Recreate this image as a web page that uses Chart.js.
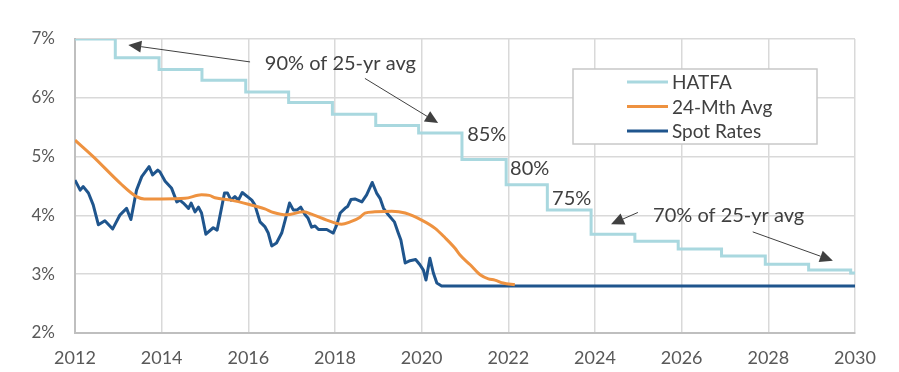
<!DOCTYPE html>
<html><head><meta charset="utf-8">
<script src="https://cdn.jsdelivr.net/npm/chart.js@4/dist/chart.umd.min.js"></script>
<style>html,body{margin:0;padding:0;background:#fff}#wrap{width:899px;height:372px;position:relative}</style>
</head><body><div id="wrap"><canvas id="c" width="899" height="372"></canvas></div>
<script>
// ---- data ----
const seriesNames = ['HATFA', '24-Mth Avg', 'Spot Rates'];
const hatfaYears = [2012, 2012.93, 2013.94, 2014.93, 2015.94, 2016.93, 2017.94, 2018.94, 2019.93, 2020.93, 2021.95, 2022.9, 2023.91, 2024.92, 2025.92, 2026.92, 2027.93, 2028.93, 2029.9, 2030];
const hatfaValues = [7.00, 6.68, 6.48, 6.30, 6.10, 5.92, 5.72, 5.53, 5.40, 4.95, 4.52, 4.09, 3.68, 3.56, 3.43, 3.31, 3.17, 3.07, 3.02, 3.02];
const avgYears = [2012.0, 2012.42, 2013.04, 2013.42, 2013.6, 2014.0, 2014.54, 2014.92, 2015.1, 2015.23, 2015.6, 2016.0, 2016.38, 2016.58, 2016.88, 2017.27, 2017.5, 2017.81, 2018.15, 2018.35, 2018.58, 2018.69, 2018.92, 2019.31, 2019.62, 2020.0, 2020.31, 2020.54, 2020.77, 2020.88, 2021.12, 2021.35, 2021.54, 2021.69, 2021.88, 2022.15];
const avgValues = [5.28, 5.00, 4.55, 4.32, 4.28, 4.28, 4.29, 4.35, 4.34, 4.30, 4.26, 4.19, 4.11, 4.05, 4.01, 4.06, 4.01, 3.92, 3.85, 3.89, 3.97, 4.04, 4.06, 4.07, 4.04, 3.92, 3.78, 3.62, 3.44, 3.33, 3.16, 2.99, 2.92, 2.90, 2.85, 2.82];
const spotYears = [2012.0, 2012.12, 2012.19, 2012.31, 2012.42, 2012.54, 2012.69, 2012.87, 2013.04, 2013.19, 2013.29, 2013.42, 2013.54, 2013.71, 2013.79, 2013.91, 2013.96, 2014.08, 2014.23, 2014.35, 2014.42, 2014.5, 2014.62, 2014.68, 2014.77, 2014.85, 2014.92, 2015.02, 2015.19, 2015.28, 2015.45, 2015.52, 2015.6, 2015.69, 2015.77, 2015.86, 2016.08, 2016.15, 2016.27, 2016.38, 2016.46, 2016.54, 2016.65, 2016.77, 2016.85, 2016.95, 2017.04, 2017.12, 2017.21, 2017.31, 2017.38, 2017.46, 2017.54, 2017.62, 2017.81, 2017.88, 2017.96, 2018.04, 2018.12, 2018.23, 2018.29, 2018.37, 2018.46, 2018.62, 2018.73, 2018.86, 2018.96, 2019.04, 2019.12, 2019.23, 2019.37, 2019.46, 2019.52, 2019.62, 2019.73, 2019.86, 2019.96, 2020.04, 2020.1, 2020.19, 2020.27, 2020.35, 2020.46, 2030];
const spotValues = [4.60, 4.43, 4.49, 4.38, 4.18, 3.84, 3.91, 3.77, 4.01, 4.12, 3.93, 4.43, 4.66, 4.83, 4.69, 4.77, 4.74, 4.58, 4.46, 4.23, 4.26, 4.21, 4.12, 4.21, 4.06, 4.14, 4.04, 3.68, 3.79, 3.75, 4.38, 4.38, 4.26, 4.32, 4.26, 4.39, 4.26, 4.18, 3.89, 3.81, 3.70, 3.48, 3.53, 3.70, 3.92, 4.21, 4.09, 4.09, 4.14, 4.01, 3.95, 3.80, 3.82, 3.76, 3.76, 3.73, 3.70, 3.84, 4.04, 4.12, 4.15, 4.27, 4.28, 4.23, 4.35, 4.56, 4.38, 4.29, 4.12, 4.01, 3.89, 3.70, 3.58, 3.19, 3.23, 3.25, 3.16, 3.07, 2.90, 3.27, 3.02, 2.85, 2.80, 2.80];
const xTickValues = [2012, 2014, 2016, 2018, 2020, 2022, 2024, 2026, 2028, 2030];
const yTickValues = [2, 3, 4, 5, 6, 7];
const noteTexts = ['90% of 25-yr avg', '85%', '80%', '75%', '70% of 25-yr avg'];
const noteAt = [[2016.38, 6.59], [2021.05, 5.37], [2022.04, 4.79], [2023.01, 4.28], [2025.34, 3.99]];
const arrowFrom = [[2016.04, 6.61], [2018.69, 6.33], [2024.99, 4.05], [2027.64, 3.72]];
const arrowTo = [[2013.23, 6.90], [2020.38, 5.57], [2024.37, 3.85], [2029.49, 3.23]];

const colors = ['#A9D8DF', '#EE9240', '#1F558D'];
const FONT = 'Lato, "Noto Sans", sans-serif';

const pts = (xs, ys) => xs.map((x, i) => ({x: x, y: ys[i]}));

const overlay = {
  id: 'overlay',
  afterDatasetsDraw(chart) {
    const ctx = chart.ctx, xs = chart.scales.x, ys = chart.scales.y;
    ctx.save();
    // annotations text
    ctx.fillStyle = '#404040';
    ctx.font = '20px ' + FONT;
    ctx.textBaseline = 'middle';
    ctx.textAlign = 'left';
    noteTexts.forEach((t, i) => {
      ctx.fillText(t, xs.getPixelForValue(noteAt[i][0]), ys.getPixelForValue(noteAt[i][1]));
    });
    // arrows
    arrowFrom.forEach((f, i) => {
      const x1 = xs.getPixelForValue(f[0]), y1 = ys.getPixelForValue(f[1]);
      const x2 = xs.getPixelForValue(arrowTo[i][0]), y2 = ys.getPixelForValue(arrowTo[i][1]);
      const a = Math.atan2(y2 - y1, x2 - x1), L = 13, W = 6;
      const bx = x2 - L * Math.cos(a), by = y2 - L * Math.sin(a);
      ctx.strokeStyle = '#404040'; ctx.lineWidth = 1;
      ctx.beginPath(); ctx.moveTo(x1, y1); ctx.lineTo(bx, by); ctx.stroke();
      ctx.fillStyle = '#404040';
      ctx.beginPath();
      ctx.moveTo(x2, y2);
      ctx.lineTo(bx + W * Math.sin(a), by - W * Math.cos(a));
      ctx.lineTo(bx - W * Math.sin(a), by + W * Math.cos(a));
      ctx.closePath(); ctx.fill();
    });
    // legend
    const lx = 573, ly = 69, lw = 244, lh = 75;
    ctx.fillStyle = '#fff';
    ctx.fillRect(lx, ly, lw, lh);
    ctx.strokeStyle = '#C8C8C8'; ctx.lineWidth = 1.5;
    ctx.strokeRect(lx, ly, lw, lh);
    ctx.font = '19px ' + FONT;
    seriesNames.forEach((n, i) => {
      const ry = 82 + i * 24.5;
      ctx.strokeStyle = colors[i]; ctx.lineWidth = 3;
      ctx.beginPath(); ctx.moveTo(627, ry); ctx.lineTo(668, ry); ctx.stroke();
      ctx.fillStyle = '#404040';
      ctx.fillText(n, 672, ry + 1);
    });
    ctx.restore();
  }
};

new Chart(document.getElementById('c'), {
  type: 'line',
  data: {
    datasets: [
      {label: seriesNames[0], data: pts(hatfaYears, hatfaValues), borderColor: colors[0], borderWidth: 3, stepped: 'before', pointRadius: 0, fill: false},
      {label: seriesNames[1], data: pts(avgYears, avgValues), borderColor: colors[1], borderWidth: 3, cubicInterpolationMode: 'monotone', pointRadius: 0, fill: false},
      {label: seriesNames[2], data: pts(spotYears, spotValues), borderColor: colors[2], borderWidth: 3, pointRadius: 0, fill: false, borderJoinStyle: 'round'}
    ]
  },
  options: {
    responsive: false,
    animation: false,
    devicePixelRatio: 1,
    layout: {padding: {left: 0, right: 44, top: 39, bottom: 0}},
    plugins: {legend: {display: false}, tooltip: {enabled: false}},
    scales: {
      x: {
        type: 'linear', min: 2012, max: 2030,
        afterBuildTicks: s => { s.ticks = xTickValues.map(v => ({value: v})); },
        afterFit: s => { s.height = 39; },
        ticks: {color: '#595959', font: {family: FONT, size: 18}, padding: 14, maxRotation: 0, autoSkip: false, callback: v => String(v)},
        grid: {color: '#D9D9D9', lineWidth: 1.5, drawTicks: false},
        border: {color: '#BFBFBF', width: 2}
      },
      y: {
        min: 2, max: 7,
        afterBuildTicks: s => { s.ticks = yTickValues.map(v => ({value: v})); },
        afterFit: s => { s.width = 75; },
        ticks: {color: '#595959', font: {family: FONT, size: 17}, padding: 20, callback: v => v + '%'},
        grid: {color: '#D9D9D9', lineWidth: 1.5, drawTicks: false},
        border: {color: '#BFBFBF', width: 2}
      }
    }
  },
  plugins: [overlay]
});
</script>
</body></html>
